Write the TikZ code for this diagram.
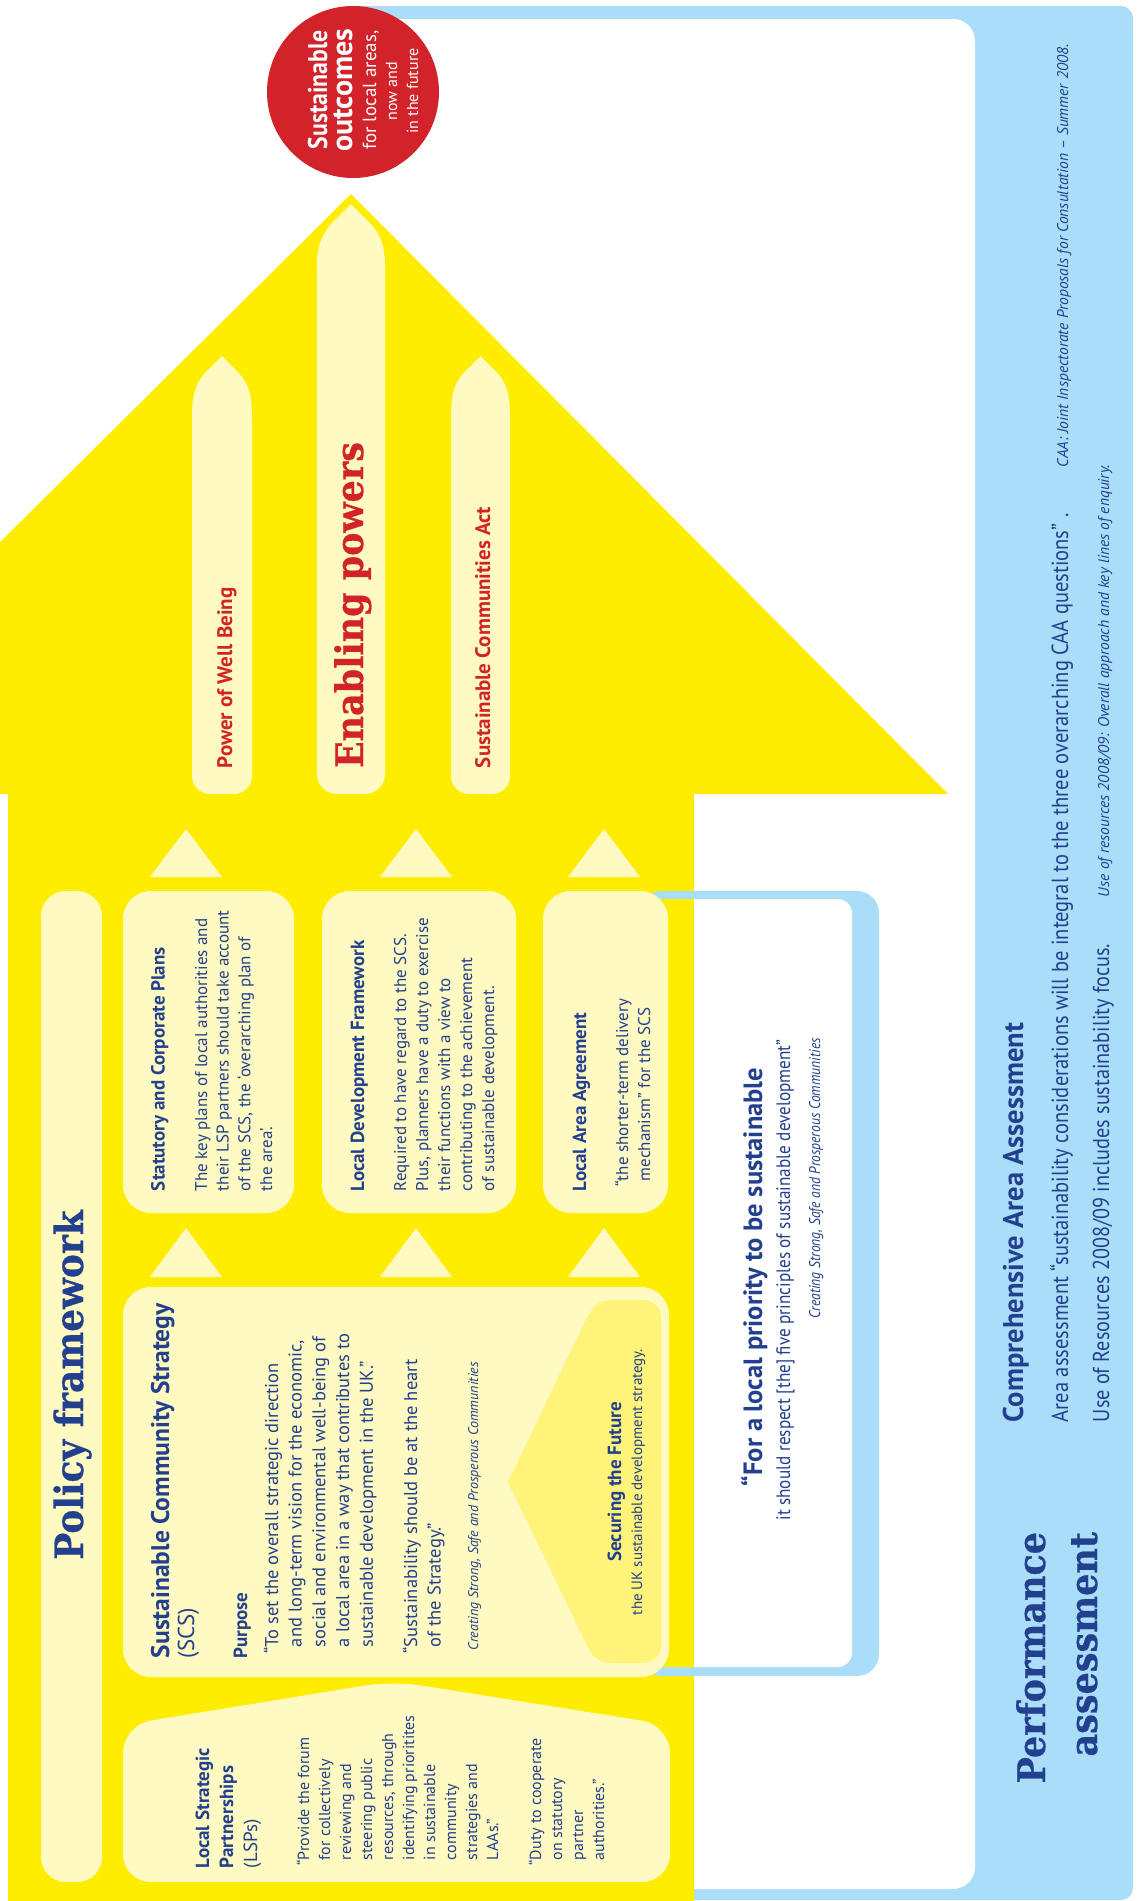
\documentclass[tikz,border=0pt]{standalone}
\usepackage{fontspec}
\setmainfont{PT Sans}
\newfontfamily\cnd[FakeStretch=0.88]{PT Sans}
\newfontfamily\slab[FakeStretch=0.92, BoldFeatures={FakeBold=0.6}]{DejaVu Serif}
\definecolor{cnavy}{HTML}{22408E}
\definecolor{cred}{HTML}{D2232A}
\definecolor{ylw}{HTML}{FFED00}
\definecolor{pale}{HTML}{FFF9C2}
\definecolor{chev}{HTML}{FFF37A}
\definecolor{lblue}{HTML}{A9DDF8}
\newcommand\fsz[2]{\fontsize{#1}{#2}\selectfont}
\newcommand\ml[1]{\begin{tabular}[t]{@{}l@{}}#1\end{tabular}}
\tikzset{
  txt/.style={rotate=90, inner sep=0pt, outer sep=0pt, anchor=base west, text=cnavy},
}
\begin{document}
\begin{tikzpicture}[x=1pt, y=-1pt]
\useasboundingbox (0,0) rectangle (1139,1901);
\begin{scope}
\clip (0,0) rectangle (1139,1901);
\fill[white] (0,0) rectangle (1139,1901);
% performance panel
\fill[lblue, rounded corners=12pt] (340,6) rectangle (1133,1900);
\fill[white, rounded corners=22pt] (330,19) rectangle (975,1889);
% outcome circle
\fill[cred] (353,92) circle[radius=86pt];
% big yellow arrow
\fill[ylw] (351,194) -- (948,794) -- (694,794) -- (694,1910) -- (8,1910) -- (8,794) -- (-254,794) -- cycle;
% quote bracket
\fill[lblue, rounded corners=22pt] (640,891) rectangle (879,1676);
\fill[white, rounded corners=14pt] (600,899) rectangle (852,1667);
\fill[ylw] (600,899) rectangle (694,1667);
% pale upward arrows
\fill[pale] (222,356) -- (207,371) .. controls (197,381) and (192,392) .. (192,417) [rounded corners=18pt] -- (192,794) -- (252,794) [sharp corners] -- (252,417) .. controls (252,392) and (247,381) .. (237,371) -- cycle;
\fill[pale] (351,204) -- (334,221) .. controls (322,233) and (317,245) .. (317,266) [rounded corners=20pt] -- (317,794) -- (385,794) [sharp corners] -- (385,266) .. controls (385,245) and (380,233) .. (368,221) -- cycle;
\fill[pale] (480.5,356) -- (465.5,371) .. controls (455.5,381) and (451,392) .. (451,417) [rounded corners=18pt] -- (451,794) -- (510,794) [sharp corners] -- (510,417) .. controls (510,392) and (505.5,381) .. (495.5,371) -- cycle;
% small triangles
\foreach \cx in {186,416,604} {
  \fill[pale] (\cx,829) -- (\cx+36,877) -- (\cx-36,877) -- cycle;
  \fill[pale] (\cx,1228) -- (\cx+36,1277) -- (\cx-36,1277) -- cycle;
}
% boxes
\fill[pale, rounded corners=25pt] (41,891) rectangle (102,1882);
\fill[pale, rounded corners=28pt] (123,891) rectangle (294,1213);
\fill[pale, rounded corners=28pt] (322,891) rectangle (516,1213);
\fill[pale, rounded corners=28pt] (543,891) rectangle (668,1213);
\fill[pale, rounded corners=28pt] (123,1287) rectangle (669,1677);
\fill[pale, rounded corners=28pt] (123,1882) -- (123,1725) -- (393,1681) -- (670,1725) -- (670,1882) -- cycle;
\fill[chev] (508,1482) -- (583,1326) .. controls (590,1311) and (595,1300) .. (612,1300) -- (643,1300) .. controls (653,1300) and (661,1308) .. (661,1318) -- (661,1645) .. controls (661,1655) and (653,1663) .. (643,1663) -- (612,1663) .. controls (595,1663) and (590,1652) .. (583,1637) -- cycle;
\end{scope}

% circle text
\node[txt, anchor=base, text=white, font=\cnd\bfseries\fsz{27}{27}] (c1) at (327,90) {Sustainable};
\node[txt, anchor=base, text=white, font=\bfseries\fsz{30}{30}] (c2) at (352,90) {outcomes};
\node[txt, anchor=base, text=white, font=\fsz{19}{19}] (c3) at (376,90) {for local areas,};
\node[txt, anchor=base, text=white, font=\fsz{16}{16}] (c4) at (397,91) {now and};
\node[txt, anchor=base, text=white, font=\fsz{16}{16}] (c5) at (418,91) {in the future};

% enabling powers
\node[txt, text=cred, font=\bfseries\fsz{21}{21}] (pw) at (232,768) {Power of Well Being};
\node[txt, text=cred, font=\slab\bfseries\fsz{38}{38}] (ep) at (363,768) {Enabling powers};
\node[txt, text=cred, font=\bfseries\fsz{21}{21}] (sca) at (490,768) {Sustainable Communities Act};

% policy framework
\node[txt, anchor=base, font=\slab\bfseries\fsz{39}{39}] (pf) at (83,1385) {Policy framework};

% statutory
\node[txt, font=\bfseries\fsz{19}{20}] (st) at (164.5,1191) {Statutory and Corporate Plans};
\node[txt, font=\fsz{17}{21.7}] (stb) at (207,1191) {\ml{The key plans of local authorities and\\their LSP partners should take account\\of the SCS, the ‘overarching plan of\\the area’.}};
% LDF
\node[txt, font=\bfseries\fsz{19}{20}] (ldf) at (364,1191) {Local Development Framework};
\node[txt, font=\fsz{17}{22}] (ldfb) at (406,1191) {\ml{Required to have regard to the SCS.\\Plus, planners have a duty to exercise\\their functions with a view to\\contributing to the achievement\\of sustainable development.}};
% LAA
\node[txt, font=\bfseries\fsz{19}{20}] (laa) at (586,1191) {Local Area Agreement};
\node[txt, font=\fsz{17}{22}] (laab) at (628,1181) {\ml{\llap{“}the shorter-term delivery\\mechanism” for the SCS}};

% SCS
\node[txt, font=\bfseries\fsz{25.5}{25.5}] (scs) at (169,1658) {Sustainable Community Strategy};
\node[txt, font=\fsz{23}{23}] (scs2) at (194,1658) {(SCS)};
\node[txt, font=\bfseries\fsz{19}{19}] (pur) at (247,1658) {Purpose};
\node[txt, font=\fsz{18.5}{23.7}] (q1) at (278,1647) {\ml{\llap{“}To set the overall strategic direction\\and long-term vision for the economic,\\social and environmental well-being of\\a local area in a way that contributes to\\sustainable development in the UK.”}};
\node[txt, font=\fsz{18.5}{23.7}] (q2) at (417,1647) {\ml{\llap{“}Sustainability should be at the heart\\of the Strategy.”}};
\node[txt, font=\itshape\fsz{14}{14}] (cit) at (478,1650) {Creating Strong, Safe and Prosperous Communities};
\node[txt, anchor=base, font=\bfseries\fsz{19}{19}] (sf) at (621,1482) {Securing the Future};
\node[txt, anchor=base, font=\fsz{15}{15}] (sf2) at (642,1482) {the UK sustainable development strategy.};

% LSP
\node[txt, font=\bfseries\fsz{19}{24}] (lsp) at (209,1868) {\ml{Local Strategic\\Partnerships\\\mdseries (LSPs)}};
\node[txt, font=\fsz{16}{21}] (lspq) at (309,1860) {\ml{\llap{“}Provide the forum\\for collectively\\reviewing and\\steering public\\resources, through\\identifying prioritites\\in sustainable\\community\\strategies and\\LAAs.”}};
\node[txt, font=\fsz{16}{21}] (duty) at (541,1860) {\ml{\llap{“}Duty to cooperate\\on statutory\\partner\\authorities.”}};

% quote box
\node[txt, anchor=base, font=\bfseries\fsz{26.5}{26.5}] (fl) at (762,1277) {“For a local priority to be sustainable};
\node[txt, anchor=base, font=\cnd\fsz{19.5}{19.5}] (fl2) at (790,1280) {it should respect [the] five principles of sustainable development”};
\node[txt, anchor=base east, font=\cnd\itshape\fsz{15.5}{15.5}] (fl3) at (820,1038) {Creating Strong, Safe and Prosperous Communities};

% performance assessment
\node[txt, anchor=base east, font=\slab\bfseries\fsz{38}{38}] (perf) at (1045,1532) {Performance};
\node[txt, anchor=base east, font=\slab\bfseries\fsz{38}{38}] (asse) at (1097,1532) {assessment};
\node[txt, font=\bfseries\fsz{28.5}{28.5}] (caa) at (1023,1422) {Comprehensive Area Assessment};
\node[txt, font=\cnd\fsz{23.3}{23.3}] (aa) at (1068,1422) {Area assessment “sustainability considerations will be integral to the three overarching CAA questions” .};
\node[txt, font=\itshape\fsz{15.5}{15.5}] (n1) at (1068,467) {CAA: Joint Inspectorate Proposals for Consultation – Summer 2008.};
\node[txt, font=\cnd\fsz{23}{23}] (ur) at (1109,1422) {Use of Resources 2008/09 includes sustainability focus.};
\node[txt, font=\itshape\fsz{15.5}{15.5}] (n2) at (1109,897) {Use of resources 2008/09: Overall approach and key lines of enquiry.};
\end{tikzpicture}
\end{document}
